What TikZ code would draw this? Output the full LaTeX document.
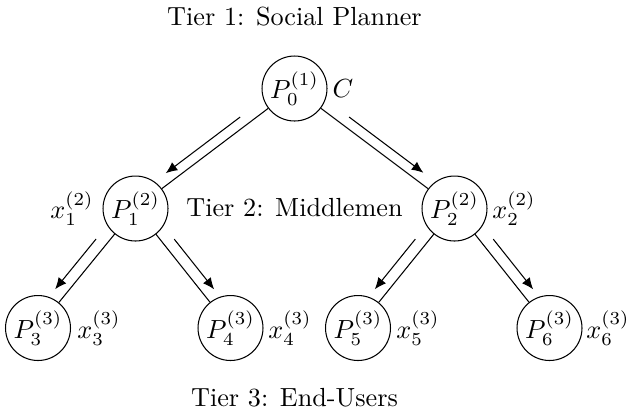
\documentclass[tikz,border=0pt]{standalone}
\usetikzlibrary{calc,arrows.meta}
\begin{document}
\begin{tikzpicture}[x=0.38168pt,y=-0.38168pt,
  agent/.style={draw,circle,minimum size=24.8pt,inner sep=0.5pt},
  tag/.style={inner sep=1pt},
  tier/.style={anchor=base,inner sep=0pt},
  flow/.style={-{Latex[length=4.4pt,width=3.8pt]}}]
\useasboundingbox (0,0) rectangle (630,411);
% nodes
\node[agent] (P0) at (294.5,88.5) {$P_0^{(1)}$};
\node[agent] (P1) at (135.5,208.5) {$P_1^{(2)}$};
\node[agent] (P2) at (454.5,208.5) {$P_2^{(2)}$};
\node[agent] (P3) at (38,328) {$P_3^{(3)}$};
\node[agent] (P4) at (230.5,328) {$P_4^{(3)}$};
\node[agent] (P5) at (358,328) {$P_5^{(3)}$};
\node[agent] (P6) at (549.5,328) {$P_6^{(3)}$};
% labels
\node[tag,anchor=base] (C) at (343,97.5) {$C$};
\node[tag] (x1) at (72,208.5) {$x_1^{(2)}$};
\node[tag] (x2) at (514,208.5) {$x_2^{(2)}$};
\node[tag] (x3) at (99,328) {$x_3^{(3)}$};
\node[tag] (x4) at (290,328) {$x_4^{(3)}$};
\node[tag] (x5) at (418,328) {$x_5^{(3)}$};
\node[tag] (x6) at (608,328) {$x_6^{(3)}$};
% tiers
\node[tier] (t1) at (294.5,25) {Tier 1: Social Planner};
\node[tier] (t2) at (294.5,216.5) {Tier 2: Middlemen};
\node[tier] (t3) at (294.5,406.5) {Tier 3: End-Users};
% plain links
\draw (P0) -- (P1);
\draw (P0) -- (P2);
\draw (P1) -- (P3);
\draw (P1) -- (P4);
\draw (P2) -- (P5);
\draw (P2) -- (P6);
% flow arrows
\draw[flow] ($(P0)!0.304!(P1)!3.8pt!-90:(P1)$) -- ($(P0)!0.772!(P1)!3.8pt!-90:(P1)$);
\draw[flow] ($(P0)!0.304!(P2)!3.8pt!90:(P2)$) -- ($(P0)!0.768!(P2)!3.8pt!90:(P2)$);
\draw[flow] ($(P1)!0.315!(P3)!4.3pt!-90:(P3)$) -- ($(P1)!0.735!(P3)!4.3pt!-90:(P3)$);
\draw[flow] ($(P1)!0.315!(P4)!4.3pt!90:(P4)$) -- ($(P1)!0.735!(P4)!4.3pt!90:(P4)$);
\draw[flow] ($(P2)!0.315!(P5)!4.3pt!-90:(P5)$) -- ($(P2)!0.735!(P5)!4.3pt!-90:(P5)$);
\draw[flow] ($(P2)!0.315!(P6)!4.3pt!90:(P6)$) -- ($(P2)!0.735!(P6)!4.3pt!90:(P6)$);
\end{tikzpicture}
\end{document}
